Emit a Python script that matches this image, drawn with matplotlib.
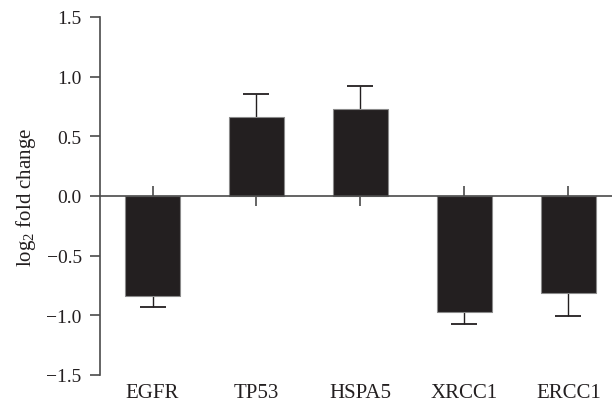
import numpy as np
import matplotlib
matplotlib.use("Agg")
import matplotlib.pyplot as plt

# datos
genes = ["EGFR", "TP53", "HSPA5", "XRCC1", "ERCC1"]
valores = [-0.836, 0.66, 0.729, -0.97, -0.813]
errores = [0.092, 0.197, 0.19, 0.103, 0.195]
yticks = [-1.5, -1.0, -0.5, 0.0, 0.5, 1.0, 1.5]

plt.rcParams["font.family"] = ["Liberation Serif", "DejaVu Serif"]
plt.rcParams["mathtext.fontset"] = "custom"
plt.rcParams["mathtext.rm"] = "Liberation Serif"
plt.rcParams["mathtext.it"] = "Liberation Serif:italic"

texto = "#231f20"
gris = "#4a4a4a"

x = np.arange(len(genes))
# barras de error solo hacia fuera del cero
err_inf = [e if v < 0 else 0 for v, e in zip(valores, errores)]
err_sup = [e if v > 0 else 0 for v, e in zip(valores, errores)]

fig = plt.figure(figsize=(6.12, 4.06), dpi=100)
ax = fig.add_axes([0.1634, 0.0739, 0.8366, 0.8818])

barras = ax.bar(x, valores, width=0.53, color="#231f20", edgecolor="#8a8a8a", linewidth=0.8,
                yerr=[err_inf, err_sup], zorder=2,
                error_kw=dict(ecolor="#231f20", elinewidth=1.0, capsize=9.5, capthick=1.3, zorder=1))

# quitar los caps de longitud cero (los que quedan sobre el borde de la barra)
_, caps, _ = barras.errorbar.lines
for cap in caps:
    cx = np.asarray(cap.get_xdata())
    cy = np.asarray(cap.get_ydata())
    fuera = ~np.isclose(cy, valores)
    cap.set_data(cx[fuera], cy[fuera])

ax.set_xlim(-0.505, 4.42)
ax.set_ylim(-1.5, 1.5)
ax.set_yticks(yticks)
ax.set_yticklabels([f"{t:.1f}".replace("-", "\u2212") for t in yticks])

for s in ["top", "right"]:
    ax.spines[s].set_visible(False)
ax.spines["left"].set_color(gris)
ax.spines["left"].set_linewidth(1.2)
ax.spines["bottom"].set_position(("data", 0))
ax.spines["bottom"].set_color(gris)
ax.spines["bottom"].set_linewidth(1.2)
ax.spines["bottom"].set_zorder(3)

ax.tick_params(axis="y", direction="out", length=7.2, width=1.2, color=gris,
               labelsize=14, labelcolor=texto, pad=6)
ax.set_xticks(x)
ax.tick_params(axis="x", direction="inout", length=14.4, width=1.2, color=gris,
               labelbottom=False)

# etiquetas de genes abajo del eje
sec = ax.secondary_xaxis(0)
sec.set_xticks(x, genes)
sec.tick_params(length=0, pad=6, labelsize=15, labelcolor=texto)
sec.spines["bottom"].set_visible(False)

ax.set_ylabel(r"log$_2$ fold change", fontsize=15, color=texto)
ax.yaxis.set_label_coords(-0.121, 0.5)

fig.savefig("out.png", dpi=100)
